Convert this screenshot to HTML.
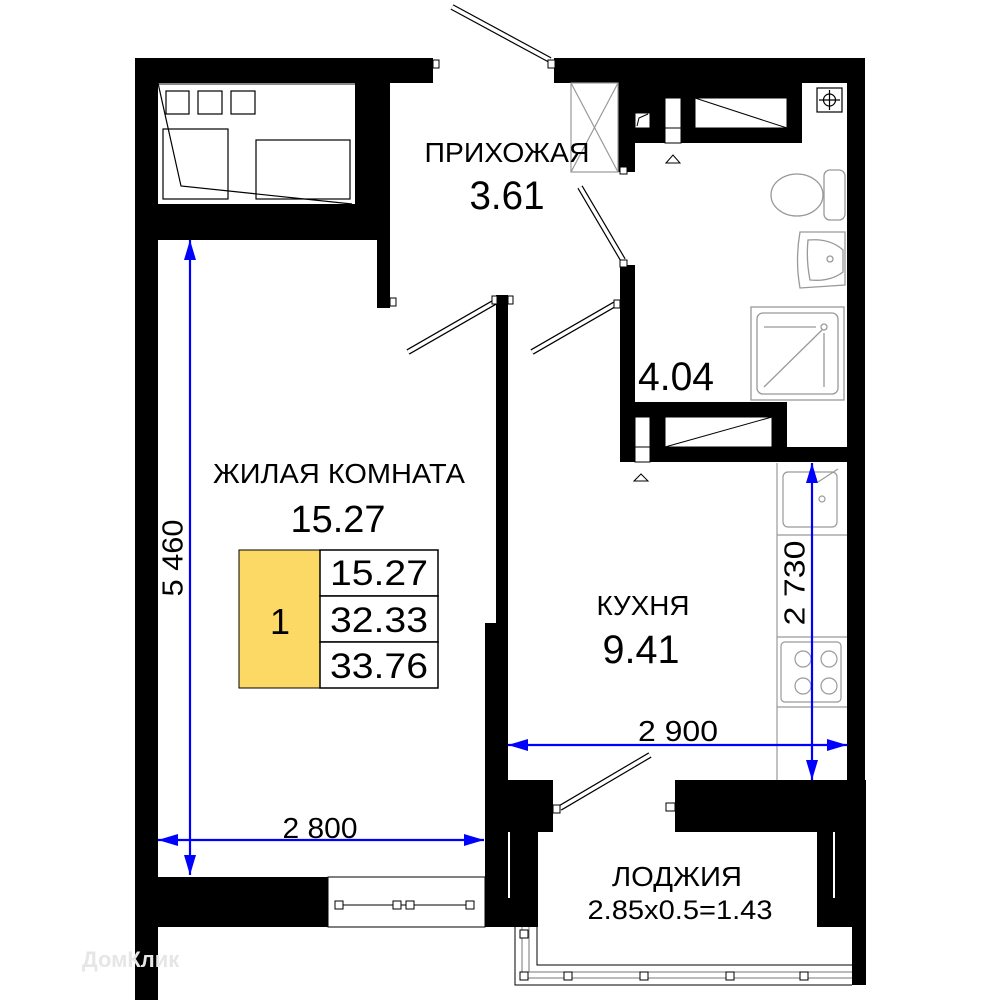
<!DOCTYPE html>
<html><head><meta charset="utf-8"><style>
html,body{margin:0;padding:0;background:#fff;}
svg{display:block;}
text{font-family:"Liberation Sans",sans-serif;fill:#000;}
</style></head><body>
<svg width="1000" height="1000" viewBox="0 0 1000 1000" xmlns="http://www.w3.org/2000/svg">
<defs>
<marker id="ar" viewBox="0 0 20 12" refX="20" refY="6" markerWidth="20" markerHeight="12" orient="auto-start-reverse" markerUnits="userSpaceOnUse"><path d="M0,0 L20,6 L0,12 z" fill="#0000ff"/></marker>
</defs>
<rect width="1000" height="1000" fill="#fff"/>
<g fill="#000">
<rect x="135" y="58" width="23" height="942"/>
<rect x="135" y="58" width="298" height="25"/>
<rect x="355" y="83" width="35" height="157"/>
<rect x="377" y="83" width="13" height="225"/>
<rect x="158" y="204" width="232" height="36"/>
<rect x="135" y="877" width="193" height="50"/>
<rect x="496" y="295" width="12" height="335"/>
<rect x="485" y="623" width="23" height="304"/>
<rect x="485" y="780" width="68" height="52"/>
<rect x="485" y="780" width="53" height="147"/>
<rect x="479" y="913" width="10" height="14"/>
<rect x="554" y="58" width="311" height="25"/>
<rect x="847" y="58" width="18" height="722"/>
<rect x="618" y="83" width="184" height="60"/>
<rect x="618" y="83" width="17" height="89"/>
<rect x="620" y="265" width="15" height="197"/>
<rect x="620" y="402" width="167" height="60"/>
<rect x="620" y="447" width="227" height="15"/>
<rect x="675" y="780" width="190" height="52"/>
<rect x="817" y="832" width="48" height="95"/>
<rect x="852" y="780" width="14" height="205"/>
</g>
<g fill="#fff" stroke="#000" stroke-width="1">
<rect x="635" y="113" width="15" height="15"/>
<rect x="665" y="98" width="16" height="45"/>
<rect x="695" y="98" width="92" height="30"/>
<rect x="635" y="417" width="15" height="45"/>
<rect x="665" y="417" width="107" height="30"/>
</g>
<g stroke="#000" stroke-width="1" fill="none">
<line x1="665" y1="128" x2="681" y2="128"/>
<line x1="695" y1="98" x2="787" y2="128"/>
<line x1="635" y1="447" x2="650" y2="447"/>
<line x1="665" y1="447" x2="772" y2="417"/>
<path d="M637,126 L639,118 L648,114"/>
</g>
<line x1="509" y1="832" x2="509" y2="898" stroke="#fff" stroke-width="2"/>
<line x1="834" y1="832" x2="834" y2="898" stroke="#fff" stroke-width="2"/>
<g stroke="#000" stroke-width="1.2" fill="none">
<line x1="158" y1="84" x2="355" y2="84" stroke="#888" stroke-width="2"/>
<rect x="166" y="91" width="23" height="23"/>
<rect x="198" y="91" width="24" height="23"/>
<rect x="231" y="91" width="24" height="23"/>
<rect x="163" y="129" width="65" height="70"/>
<rect x="256" y="140" width="94" height="59"/>
<polyline points="158,83 181,186 352,204"/>
</g>
<g stroke="#999" stroke-width="1.2" fill="none">
<rect x="571" y="83" width="47" height="89"/>
<line x1="571" y1="83" x2="618" y2="172"/><line x1="618" y1="83" x2="571" y2="172"/>
</g>
<g stroke="#000" stroke-width="1.2" fill="none">
<rect x="817" y="88" width="25" height="24"/>
<circle cx="829.5" cy="100" r="6"/>
<line x1="819" y1="100" x2="840" y2="100"/><line x1="829.5" y1="90" x2="829.5" y2="110"/>
</g>
<polygon points="666,163 673,155 680,163" fill="#fff" stroke="#000"/>
<polygon points="634,481 641,474 648,481" fill="#fff" stroke="#000"/>
<g stroke="#999" stroke-width="1.3" fill="none">
<ellipse cx="797" cy="195" rx="26" ry="21"/>
<rect x="824" y="170" width="21" height="50" rx="6"/>
<path d="M800,232 L845,232 L845,285 L800,288 Q795,260 800,232 Z"/>
<path d="M808,240 Q830,238 843,250 L843,272 Q830,282 810,280 Q806,260 808,240Z"/>
<circle cx="830" cy="259" r="3"/>
<rect x="751" y="307" width="93" height="93"/>
<rect x="757" y="313" width="81" height="81" rx="6"/>
<line x1="764" y1="327" x2="816" y2="327"/>
<circle cx="824" cy="327" r="3"/>
<line x1="764" y1="387" x2="822" y2="330"/>
<line x1="824" y1="333" x2="824" y2="387"/>
</g>
<g stroke="#999" stroke-width="1.2" fill="none">
<line x1="777" y1="463" x2="777" y2="780"/>
<line x1="777" y1="535" x2="847" y2="535"/>
<line x1="777" y1="637" x2="847" y2="637"/>
<line x1="777" y1="707" x2="847" y2="707"/>
<rect x="783" y="472" width="54" height="55" rx="5"/>
<circle cx="822" cy="499" r="3"/>
<line x1="818" y1="482" x2="838" y2="469"/>
<rect x="781" y="642" width="60" height="60" rx="4"/>
<circle cx="803" cy="659" r="8"/><circle cx="829" cy="659" r="8"/>
<circle cx="803" cy="686" r="8"/><circle cx="829" cy="686" r="8"/>
</g>
<g stroke="#000" stroke-width="1" fill="#fff">
<rect x="328" y="877" width="157" height="50"/>
<line x1="340" y1="905" x2="470" y2="905"/>
<rect x="335" y="901" width="8" height="8"/><rect x="393" y="901" width="8" height="8"/>
<rect x="406" y="901" width="8" height="8"/><rect x="466" y="901" width="8" height="8"/>
</g>
<g stroke="#000" stroke-width="1" fill="none">
<polyline points="515,927 515,985 852,985"/>
<polyline points="537,927 537,965 852,965"/>
<polyline points="522,927 522,978 852,978" stroke="#777"/>
<polyline points="529,927 529,972 852,972" stroke="#777"/>
</g>
<g stroke="#000" stroke-width="1" fill="#fff">
<rect x="520" y="930" width="8" height="8"/>
<rect x="520" y="972" width="8" height="8"/>
<rect x="564" y="972" width="8" height="8"/><rect x="640" y="972" width="8" height="8"/>
<rect x="726" y="972" width="8" height="8"/><rect x="800" y="972" width="8" height="8"/>
</g>
<g stroke="#000" stroke-width="6" stroke-linecap="butt">
<line x1="452" y1="7" x2="550" y2="60"/>
<line x1="408" y1="352" x2="495" y2="302"/>
<line x1="532" y1="352" x2="617" y2="303"/>
<line x1="580" y1="187" x2="623" y2="260"/>
<line x1="560" y1="808" x2="650" y2="755"/>
</g>
<g stroke="#fff" stroke-width="3.6">
<line x1="452" y1="7" x2="550" y2="60"/>
<line x1="408" y1="352" x2="495" y2="302"/>
<line x1="532" y1="352" x2="617" y2="303"/>
<line x1="580" y1="187" x2="623" y2="260"/>
<line x1="560" y1="808" x2="650" y2="755"/>
</g>
<g stroke="#000" stroke-width="1" fill="#fff">
<rect x="548" y="60" width="7" height="8"/><rect x="433" y="60" width="6" height="8"/>
<rect x="390" y="298" width="6" height="8"/><rect x="492" y="296" width="5" height="8"/><rect x="508" y="296" width="5" height="8"/>
<rect x="620" y="260" width="7" height="7"/><rect x="614" y="300" width="6" height="8"/>
<rect x="620" y="167" width="7" height="7"/>
<rect x="553" y="805" width="7" height="8"/><rect x="666" y="803" width="9" height="8"/>
</g>
<g stroke="#0000ff" stroke-width="2.2" marker-start="url(#ar)" marker-end="url(#ar)">
<line x1="190" y1="240" x2="190" y2="875"/>
<line x1="158" y1="840" x2="484" y2="840"/>
<line x1="508" y1="745" x2="847" y2="745"/>
<line x1="812" y1="463" x2="812" y2="780"/>
</g>
<text x="175" y="558" font-size="29" text-anchor="middle" transform="rotate(-90 175 558)" dominant-baseline="middle" textLength="77" lengthAdjust="spacingAndGlyphs">5 460</text>
<text x="320" y="838" font-size="29" text-anchor="middle" textLength="75" lengthAdjust="spacingAndGlyphs">2 800</text>
<text x="678" y="741" font-size="29" text-anchor="middle" textLength="80" lengthAdjust="spacingAndGlyphs">2 900</text>
<text x="797" y="583" font-size="29" text-anchor="middle" transform="rotate(-90 797 583)" dominant-baseline="middle" textLength="85" lengthAdjust="spacingAndGlyphs">2 730</text>
<text x="339" y="483" font-size="28" text-anchor="middle" textLength="252" lengthAdjust="spacingAndGlyphs">ЖИЛАЯ КОМНАТА</text>
<text x="338" y="532" font-size="38" text-anchor="middle" textLength="95" lengthAdjust="spacingAndGlyphs">15.27</text>
<text x="507" y="162" font-size="28" text-anchor="middle" textLength="165" lengthAdjust="spacingAndGlyphs">ПРИХОЖАЯ</text>
<text x="507" y="209" font-size="40" text-anchor="middle" textLength="75" lengthAdjust="spacingAndGlyphs">3.61</text>
<text x="676" y="390" font-size="40" text-anchor="middle" textLength="76" lengthAdjust="spacingAndGlyphs">4.04</text>
<text x="643" y="615" font-size="28" text-anchor="middle" textLength="93" lengthAdjust="spacingAndGlyphs">КУХНЯ</text>
<text x="641" y="663" font-size="40" text-anchor="middle" textLength="77" lengthAdjust="spacingAndGlyphs">9.41</text>
<text x="677" y="886" font-size="28" text-anchor="middle" textLength="130" lengthAdjust="spacingAndGlyphs">ЛОДЖИЯ</text>
<text x="680" y="919" font-size="27" text-anchor="middle" textLength="185" lengthAdjust="spacingAndGlyphs">2.85x0.5=1.43</text>
<rect x="239" y="550" width="81" height="138" fill="#fcd965" stroke="#000" stroke-width="1"/>
<rect x="320" y="550" width="118" height="46" fill="#fff" stroke="#000" stroke-width="1.5"/>
<rect x="320" y="596" width="118" height="46" fill="#fff" stroke="#000" stroke-width="1.5"/>
<rect x="320" y="642" width="118" height="46" fill="#fff" stroke="#000" stroke-width="1.5"/>
<text x="280" y="634" font-size="36" text-anchor="middle">1</text>
<text x="379" y="585" font-size="35" text-anchor="middle" textLength="98" lengthAdjust="spacingAndGlyphs">15.27</text>
<text x="379" y="632" font-size="35" text-anchor="middle" textLength="98" lengthAdjust="spacingAndGlyphs">32.33</text>
<text x="379" y="678" font-size="35" text-anchor="middle" textLength="98" lengthAdjust="spacingAndGlyphs">33.76</text>
<text x="82" y="967" font-size="22" font-weight="bold" style="fill:#e6e6e6">ДомКлик</text>
</svg>
</body></html>
